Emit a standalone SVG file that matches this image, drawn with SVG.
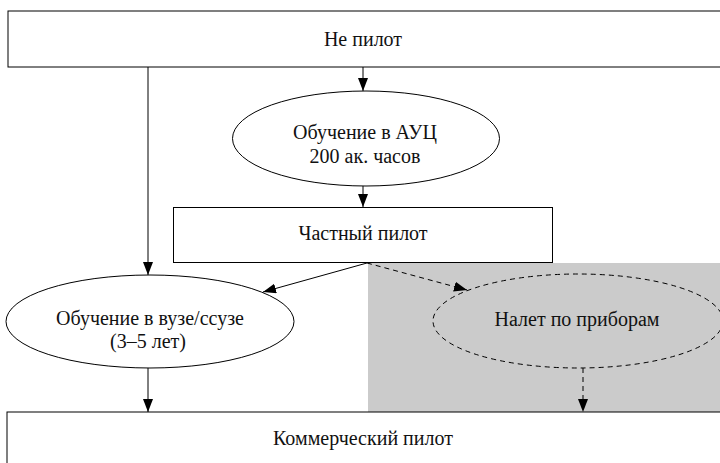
<svg xmlns="http://www.w3.org/2000/svg" width="720" height="463" viewBox="0 0 720 463">
<style>
  .box { fill: #ffffff; stroke: #000000; stroke-width: 1; }
  .dash { fill: none; stroke: #000000; stroke-width: 1; stroke-dasharray: 5 4; }
  .lbl { font-family: 'Liberation Serif', 'Times New Roman', serif; font-size: 20px; fill: #111111; text-anchor: middle; }
  .edge { fill: none; stroke: #000000; stroke-width: 1; }
</style>
<defs>
  <marker id="arr" markerUnits="userSpaceOnUse" markerWidth="14" markerHeight="11" refX="13" refY="5" orient="auto">
    <path d="M0,0 L13,5 L0,10 z" fill="#000000"/>
  </marker>
</defs>
<rect x="368" y="263" width="352" height="149" fill="#cbcbcb"/>
<g id="ne-pilot">
  <rect class="box" x="8" y="11" width="730" height="56"/>
  <text class="lbl" x="363" y="46">Не пилот</text>
</g>
<g id="auc">
  <ellipse class="box" cx="366" cy="138.5" rx="133.5" ry="47.5"/>
  <text class="lbl" x="365" y="139">Обучение в АУЦ</text>
  <text class="lbl" x="365" y="163">200 ак. часов</text>
</g>
<g id="chastny">
  <rect class="box" x="173.5" y="207.5" width="379" height="55"/>
  <text class="lbl" x="363" y="240">Частный пилот</text>
</g>
<g id="vuz">
  <ellipse class="box" cx="150" cy="321.5" rx="144" ry="46.5"/>
  <text class="lbl" x="150" y="325">Обучение в вузе/ссузе</text>
  <text class="lbl" x="148" y="348">(3–5 лет)</text>
</g>
<g id="nalet">
  <ellipse class="dash" cx="578" cy="321" rx="145" ry="47"/>
  <text class="lbl" x="577" y="326">Налет по приборам</text>
</g>
<g id="commercial">
  <rect class="box" x="7" y="412" width="730" height="60"/>
  <text class="lbl" x="363" y="445">Коммерческий пилот</text>
</g>
<g id="connectors">
  <line class="edge" x1="148" y1="67" x2="148" y2="275" marker-end="url(#arr)"/>
  <line class="edge" x1="363" y1="67" x2="363" y2="91" marker-end="url(#arr)"/>
  <line class="edge" x1="363" y1="186" x2="363" y2="207" marker-end="url(#arr)"/>
  <line class="edge" x1="367" y1="263" x2="263" y2="292" marker-end="url(#arr)"/>
  <line class="dash" x1="367" y1="263" x2="467" y2="290" marker-end="url(#arr)"/>
  <line class="edge" x1="148" y1="368" x2="148" y2="412" marker-end="url(#arr)"/>
  <line class="dash" x1="583" y1="368" x2="583" y2="412" marker-end="url(#arr)"/>
</g>
</svg>
